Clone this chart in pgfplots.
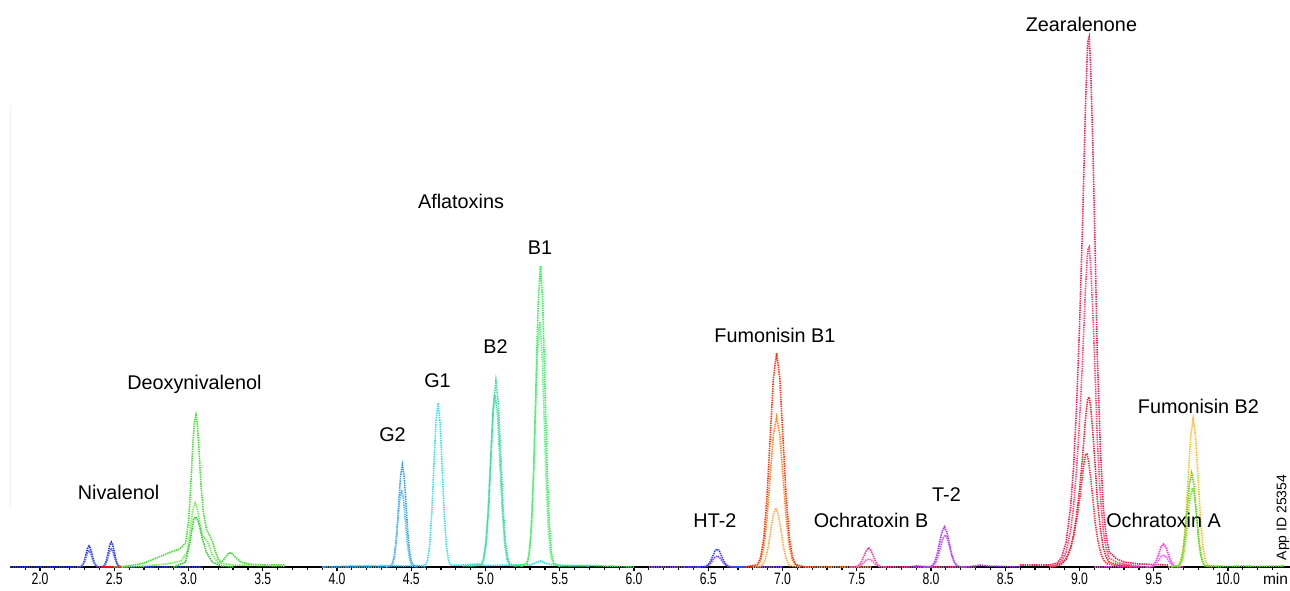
\documentclass[border=0pt]{standalone}
\usepackage{fontspec}
\setmainfont{Liberation Sans}
\usepackage{graphicx}
\usepackage{pgfplots}
\pgfplotsset{compat=1.18}
\definecolor{cBlue}{HTML}{2233EE}
\definecolor{cBlueL}{HTML}{5566FF}
\definecolor{cGreen}{HTML}{44DD33}
\definecolor{cGreenL}{HTML}{77EE55}
\definecolor{cGreenD}{HTML}{33CC33}
\definecolor{cAflG2}{HTML}{3399EE}
\definecolor{cAflG2L}{HTML}{55BBFF}
\definecolor{cCyan}{HTML}{33DDEE}
\definecolor{cTeal}{HTML}{33DD99}
\definecolor{cTealL}{HTML}{44DDAA}
\definecolor{cAflB1}{HTML}{33EE55}
\definecolor{cAflB1L}{HTML}{66EE88}
\definecolor{cHT}{HTML}{3344FF}
\definecolor{cPurp}{HTML}{8844FF}
\definecolor{cRed}{HTML}{FF3311}
\definecolor{cOrange}{HTML}{FF8822}
\definecolor{cOrangeL}{HTML}{FFAA44}
\definecolor{cPink}{HTML}{FF3399}
\definecolor{cPinkL}{HTML}{FF66BB}
\definecolor{cViolet}{HTML}{AA33EE}
\definecolor{cVioletL}{HTML}{BB55FF}
\definecolor{cZ1}{HTML}{EE2255}
\definecolor{cZ2}{HTML}{FF4477}
\definecolor{cZ3}{HTML}{EE2233}
\definecolor{cZ4}{HTML}{FF3344}
\definecolor{cMag}{HTML}{FF33EE}
\definecolor{cMagL}{HTML}{FF66FF}
\definecolor{cYel}{HTML}{FFBB22}
\definecolor{cLime}{HTML}{55DD22}
\definecolor{cLimeY}{HTML}{99DD33}
\pgfplotsset{tr/.style={no markers, line width=1.6pt, dash pattern=on 1.4pt off 0.9pt, #1}}
\newcommand{\lbl}{\fontsize{19.8}{22}\selectfont}
\begin{document}
\begin{tikzpicture}
\begin{axis}[
  at={(10.3pt,24pt)}, anchor=south west,
  scale only axis, width=1279.7pt, height=567pt,
  xmin=1.8, xmax=10.418, ymin=0, ymax=567,
  axis x line=bottom, axis y line=none,
  axis line style={-, black, line width=1.6pt},
  clip=false,
  xtick={2,2.5,...,10},
  minor xtick={1.9,2.1,2.2,2.3,2.4,2.6,2.7,2.8,2.9,3.1,3.2,3.3,3.4,3.6,3.7,3.8,3.9,4.1,4.2,4.3,4.4,4.6,4.7,4.8,4.9,5.1,5.2,5.3,5.4,5.6,5.7,5.8,5.9,6.1,6.2,6.3,6.4,6.6,6.7,6.8,6.9,7.1,7.2,7.3,7.4,7.6,7.7,7.8,7.9,8.1,8.2,8.3,8.4,8.6,8.7,8.8,8.9,9.1,9.2,9.3,9.4,9.6,9.7,9.8,9.9,10.1,10.2,10.3},
  tick align=outside,
  major tick length=4.5pt, minor tick length=3pt,
  every tick/.style={black, line width=1.2pt},
  /pgf/number format/assume math mode=true,
  xticklabel={\scalebox{0.74}[1]{\pgfmathprintnumber[fixed,fixed zerofill,precision=1]{\tick}}},
  xticklabel style={font=\fontsize{16.5}{16.5}\selectfont, inner sep=0pt, anchor=north, yshift=-1.5pt},
]
% faint y line
\draw[black!6, line width=1pt] (axis cs:1.8,60) -- (axis cs:1.8,460);
% Nivalenol
\addplot[tr=cBlue] coordinates {(1.8,0)(2.26,0)(2.27,0.2)(2.28,0.9)(2.29,2.8)(2.30,6.8)(2.31,12.7)(2.32,18.5)(2.33,21)(2.34,18.5)(2.35,12.7)(2.36,6.8)(2.37,2.8)(2.38,0.9)(2.39,0.2)(2.41,0)(2.42,0.3)(2.43,1.1)(2.44,3.4)(2.45,8.1)(2.46,15.2)(2.47,22.1)(2.48,25)(2.49,22.1)(2.50,15.2)(2.51,8.1)(2.52,3.4)(2.53,1.1)(2.54,0.3)(2.56,0)(3.1,0)};
\addplot[tr=cBlueL] coordinates {(2.25,0)(2.28,0.7)(2.29,2.2)(2.30,5.2)(2.31,9.7)(2.32,14.1)(2.33,16)(2.34,14.1)(2.35,9.7)(2.36,5.2)(2.37,2.2)(2.38,0.7)(2.40,0)(2.43,0.8)(2.44,2.4)(2.45,5.8)(2.46,10.9)(2.47,15.9)(2.48,18)(2.49,15.9)(2.50,10.9)(2.51,5.8)(2.52,2.4)(2.53,0.8)(2.56,0)};
\addplot[red, line width=2pt, no markers] coordinates {(2.41,0)(2.59,0)};
% Deoxynivalenol
\addplot[tr=cGreen] coordinates {(2.5,0)(2.6,1)(2.7,4)(2.8,10)(2.88,15)(2.94,18)(2.98,24)(3.0,45)(3.015,80)(3.03,125)(3.04,145)(3.05,152)(3.06,142)(3.07,118)(3.085,80)(3.1,55)(3.12,38)(3.14,32)(3.16,26)(3.18,16)(3.2,8)(3.22,4)(3.24,8)(3.27,14)(3.29,14)(3.32,9)(3.35,5)(3.4,3)(3.5,2)(3.65,2)};
\addplot[tr=cGreenL] coordinates {(2.55,0)(2.7,1)(2.85,3)(2.95,6)(2.99,15)(3.01,35)(3.03,58)(3.045,64)(3.06,58)(3.08,40)(3.1,30)(3.13,25)(3.16,12)(3.2,4)(3.3,2)(3.65,1)};
\addplot[tr=cGreenD] coordinates {(2.9,0)(2.98,5)(3.01,25)(3.035,48)(3.05,50)(3.07,44)(3.09,30)(3.12,15)(3.16,5)(3.22,1)(3.3,0)};
% Aflatoxins
\addplot[tr=cCyan] coordinates {(3.9,0)(4.1,1)(4.3,1.5)(4.45,1)(4.596,1.8)(4.61,7.2)(4.624,22.2)(4.638,53.3)(4.652,99.5)(4.666,144.7)(4.68,164)(4.694,144.7)(4.708,99.5)(4.722,53.3)(4.736,22.2)(4.75,7.2)(4.764,1.8)(4.85,2)(4.95,3)(5.0,1.5)(5.2,2)(5.3,2)(5.35,5)(5.37,6)(5.4,4)(5.45,2)(5.7,1)};
\addplot[tr=cAflG2] coordinates {(3.9,0)(4.3,0)(4.365,1.1)(4.3775,4.5)(4.39,13.8)(4.4025,33.1)(4.415,61.9)(4.4275,90)(4.44,102)(4.4525,90)(4.465,61.9)(4.4775,33.1)(4.49,13.8)(4.5025,4.5)(4.515,1.1)(4.6,0)};
\addplot[tr=cAflG2L] coordinates {(4.33,0)(4.36,0.9)(4.3725,3.4)(4.385,10.4)(4.3975,25)(4.41,46.7)(4.4225,68)(4.435,77)(4.4475,68)(4.46,46.7)(4.4725,25)(4.485,10.4)(4.4975,3.4)(4.51,0.9)(4.54,0)};
\addplot[tr=cTeal] coordinates {(4.85,1)(4.974,2.1)(4.99,8.2)(5.006,25.2)(5.022,60.4)(5.038,112.8)(5.054,164.1)(5.07,186)(5.086,164.1)(5.102,112.8)(5.118,60.4)(5.134,25.2)(5.15,8.2)(5.166,2.1)(5.25,1)};
\addplot[tr=cTealL] coordinates {(4.9,1)(4.969,1.9)(4.985,7.6)(5.001,23.3)(5.017,55.8)(5.033,104.3)(5.049,151.8)(5.065,172)(5.081,151.8)(5.097,104.3)(5.113,55.8)(5.129,23.3)(5.145,7.6)(5.161,1.9)(5.2,1)};
\addplot[tr=cAflB1] coordinates {(5.2,1)(5.28,3.3)(5.295,13.2)(5.31,40.7)(5.325,97.7)(5.34,182.6)(5.355,265.6)(5.37,301)(5.385,265.6)(5.40,182.6)(5.415,97.7)(5.43,40.7)(5.445,13.2)(5.46,3.3)(5.5,1)(5.7,1.5)(5.8,1)(6.0,0)};
\addplot[tr=cAflB1L] coordinates {(5.24,1)(5.275,2.7)(5.29,10.8)(5.305,33.1)(5.32,79.6)(5.335,148.6)(5.35,216.2)(5.365,245)(5.38,216.2)(5.395,148.6)(5.41,79.6)(5.425,33.1)(5.44,10.8)(5.455,2.7)(5.5,1)};
% HT-2
\addplot[tr=cPurp] coordinates {(6.1,0)(6.45,0)(6.485,0.5)(6.5,1.5)(6.515,3.6)(6.53,6.7)(6.545,9.7)(6.56,11)(6.575,9.7)(6.59,6.7)(6.605,3.6)(6.62,1.5)(6.635,0.5)(6.67,0)(7.0,0)};
\addplot[tr=cHT] coordinates {(6.35,0)(6.47,0.2)(6.485,0.8)(6.5,2.4)(6.515,5.8)(6.53,10.9)(6.545,15.9)(6.56,18)(6.575,15.9)(6.59,10.9)(6.605,5.8)(6.62,2.4)(6.635,0.8)(6.65,0.2)(6.75,0)};
% Fumonisin B1
\addplot[tr=cOrange] coordinates {(6.8,0)(6.831,1.7)(6.8525,6.6)(6.874,20.3)(6.8955,48.7)(6.917,91)(6.9385,132.4)(6.96,150)(6.9815,132.4)(7.003,91)(7.0245,48.7)(7.046,20.3)(7.0675,6.6)(7.089,1.7)(7.15,0)(7.6,0)};
\addplot[tr=cOrangeL] coordinates {(6.8,0)(6.85,0.7)(6.8675,2.6)(6.885,8)(6.9025,19.2)(6.92,35.8)(6.9375,52.1)(6.955,59)(6.9725,52.1)(6.99,35.8)(7.0075,19.2)(7.025,8)(7.0425,2.6)(7.06,0.7)(7.12,0)};
\addplot[tr=cRed] coordinates {(6.75,0)(6.831,2.4)(6.8525,9.4)(6.874,29)(6.8955,69.5)(6.917,129.8)(6.9385,188.9)(6.96,214)(6.9815,188.9)(7.003,129.8)(7.0245,69.5)(7.046,29)(7.0675,9.4)(7.089,2.4)(7.15,0)};
% Ochratoxin B
\addplot[tr=cPink] coordinates {(7.45,0)(7.49,0.2)(7.505,0.8)(7.52,2.6)(7.535,6.2)(7.55,11.5)(7.565,16.8)(7.58,19)(7.595,16.8)(7.61,11.5)(7.625,6.2)(7.64,2.6)(7.655,0.8)(7.67,0.2)(7.72,0)(8.3,0)};
\addplot[tr=cPinkL] coordinates {(7.48,0)(7.505,0.3)(7.52,1.1)(7.535,2.6)(7.55,4.9)(7.565,7.1)(7.58,8)(7.595,7.1)(7.61,4.9)(7.625,2.6)(7.64,1.1)(7.655,0.3)(7.7,0)};
% T-2
\addplot[tr=cViolet] coordinates {(7.85,0)(7.9,1)(7.95,0.5)(7.994,0.4)(8.01,1.8)(8.026,5.4)(8.042,13)(8.058,24.3)(8.074,35.3)(8.09,40)(8.106,35.3)(8.122,24.3)(8.138,13)(8.154,5.4)(8.17,1.8)(8.186,0.4)(8.25,0)(8.33,2)(8.38,1)(8.6,0)};
\addplot[tr=cVioletL] coordinates {(7.95,0)(7.999,0.4)(8.015,1.4)(8.031,4.3)(8.047,10.4)(8.063,19.4)(8.079,28.2)(8.095,32)(8.111,28.2)(8.127,19.4)(8.143,10.4)(8.159,4.3)(8.175,1.4)(8.191,0.4)(8.24,0)};
% Zearalenone
\addplot[tr=cZ4] coordinates {(8.8,0)(8.835,0.8)(8.865,2.1)(8.895,5.3)(8.925,12.8)(8.945,21.4)(8.965,34.1)(8.985,51.2)(9.005,72.5)(9.025,98.1)(9.04,112)(9.05,113)(9.06,106.6)(9.075,89.5)(9.09,68.3)(9.105,44.7)(9.125,25.5)(9.145,12.8)(9.165,6.4)(9.185,3.2)(9.235,1.7)(9.285,1)(9.35,0)};
\addplot[tr=cZ3] coordinates {(8.8,0)(8.85,1.3)(8.88,3.2)(8.91,8)(8.94,19.2)(8.96,32.1)(8.98,51.3)(9.0,77)(9.02,109.1)(9.04,147.6)(9.055,168.5)(9.065,170)(9.075,160.3)(9.09,134.6)(9.105,102.7)(9.12,67.3)(9.14,38.4)(9.16,19.2)(9.18,9.7)(9.2,4.8)(9.25,2.6)(9.3,1.5)(9.4,0)};
\addplot[tr=cZ2] coordinates {(8.8,0)(8.85,2.4)(8.88,6.1)(8.91,15)(8.94,36.2)(8.96,60.5)(8.98,96.6)(9.0,145)(9.02,205.4)(9.04,277.8)(9.055,317)(9.065,320)(9.075,301.8)(9.09,253.4)(9.105,193.3)(9.12,126.7)(9.14,72.3)(9.16,36.2)(9.18,18.2)(9.2,9)(9.25,4.8)(9.3,2.9)(9.4,1)};
\addplot[tr=cZ1] coordinates {(8.6,2)(8.8,2)(8.85,4)(8.88,10)(8.91,25)(8.94,60)(8.96,100)(8.98,160)(9.0,240)(9.02,340)(9.04,460)(9.055,525)(9.065,530)(9.075,500)(9.09,420)(9.105,320)(9.12,210)(9.14,120)(9.16,60)(9.18,30)(9.2,15)(9.25,8)(9.3,5)(9.4,3)(9.6,2)};
% Ochratoxin A
\addplot[tr=cMag] coordinates {(9.1,0)(9.475,0.3)(9.49,1)(9.505,3.1)(9.52,7.5)(9.535,13.9)(9.55,20.3)(9.565,23)(9.58,20.3)(9.595,13.9)(9.61,7.5)(9.625,3.1)(9.64,1)(9.655,0.3)(9.7,0)};
\addplot[tr=cMagL] coordinates {(9.45,0)(9.49,0.5)(9.505,1.6)(9.52,3.9)(9.535,7.3)(9.55,10.6)(9.565,12)(9.58,10.6)(9.595,7.3)(9.61,3.9)(9.625,1.6)(9.64,0.5)(9.68,0)};
% Fumonisin B2
\addplot[tr=cYel] coordinates {(9.6,0)(9.666,1.6)(9.6825,6.5)(9.699,20)(9.7155,48.1)(9.732,89.8)(9.7485,130.6)(9.765,148)(9.7815,130.6)(9.798,89.8)(9.8145,48.1)(9.831,20)(9.8475,6.5)(9.864,1.6)(9.95,0)};
\addplot[tr=cLimeY] coordinates {(9.62,0)(9.67,0.9)(9.685,3.5)(9.7,10.7)(9.715,25.7)(9.73,47.9)(9.745,69.7)(9.76,79)(9.775,69.7)(9.79,47.9)(9.805,25.7)(9.82,10.7)(9.835,3.5)(9.85,0.9)(9.9,0)};
\addplot[tr=cLime] coordinates {(9.6,0)(9.665,1)(9.68,4.1)(9.695,12.7)(9.71,30.5)(9.725,57)(9.74,83)(9.755,94)(9.77,83)(9.785,57)(9.8,30.5)(9.815,12.7)(9.83,4.1)(9.845,1)(9.9,1)(10.0,0.5)(10.1,1)(10.2,0.5)(10.38,1)};
% labels
\begin{scope}[every node/.style={font=\lbl, anchor=base, inner sep=0pt}]
\node at (axis cs:2.529,67) {Nivalenol};
\node at (axis cs:3.040,177) {Deoxynivalenol};
\node at (axis cs:4.835,358) {Aflatoxins};
\node at (axis cs:4.374,125) {G2};
\node at (axis cs:4.677,179) {G1};
\node at (axis cs:5.067,213) {B2};
\node at (axis cs:5.367,312) {B1};
\node at (axis cs:6.545,39) {HT-2};
\node at (axis cs:6.949,224) {Fumonisin B1};
\node at (axis cs:7.596,39) {Ochratoxin B};
\node at (axis cs:8.104,65) {T-2};
\node at (axis cs:9.013,535) {Zearalenone};
\node at (axis cs:9.801,153) {Fumonisin B2};
\node at (axis cs:9.566,39) {Ochratoxin A};
\end{scope}
\node[font=\fontsize{13.9}{14}\selectfont, rotate=90, inner sep=0pt] at (axis cs:10.370,49.5) {App ID 25354};
\node[font=\fontsize{15.5}{15.5}\selectfont, anchor=base, inner sep=0pt] at (axis cs:10.32,-17.5) {min};
\end{axis}
\pgfresetboundingbox
\path (0,0) rectangle (1290pt,591pt);
\end{tikzpicture}
\end{document}
